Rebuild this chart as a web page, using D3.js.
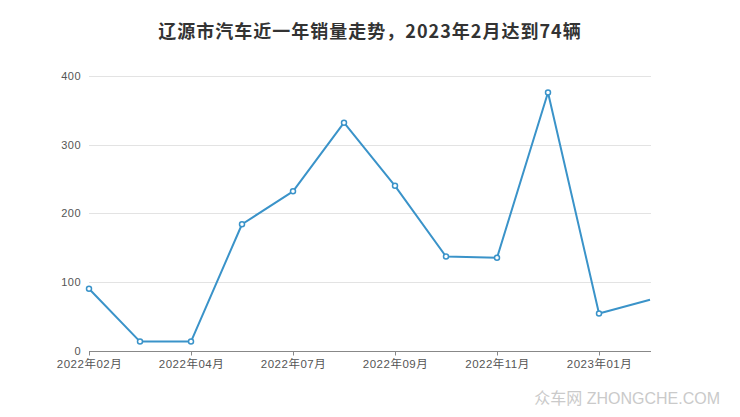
<!DOCTYPE html>
<html><head><meta charset="utf-8">
<script src="https://cdn.jsdelivr.net/npm/d3@7"></script>
<style>
html,body{margin:0;padding:0;background:#fff;}
svg{display:block;font-family:"Liberation Sans","Noto Sans CJK SC",sans-serif;}
</style></head>
<body>
<svg id="c" width="740" height="417"></svg>
<script>
const categories = ["2022年02月","2022年03月","2022年04月","2022年05月","2022年07月","2022年08月","2022年09月","2022年10月","2022年11月","2022年12月","2023年01月","2023年02月"];
const sales = [90, 13, 13, 184, 232, 332, 240, 137, 135, 376, 54, 74];
const yTicks = [0, 100, 200, 300, 400];
const xTickLabels = ["2022年02月","2022年04月","2022年07月","2022年09月","2022年11月","2023年01月"];
const titleText = "辽源市汽车近一年销量走势，2023年2月达到74辆";
const watermark = "众车网 ZHONGCHE.COM";

(function () {
const svg = d3.select("#c");
const pLeft = 89, pRight = 651, pTop = 76, pBottom = 350.5;
const x = d3.scalePoint().domain(categories).range([pLeft, 650]);
const y = d3.scaleLinear().domain([0, 400]).range([pBottom, pTop]);

svg.append("text").attr("x", 370).attr("y", 38).attr("text-anchor", "middle")
  .attr("font-size", 18).attr("font-weight", "bold").attr("fill", "#333")
  .attr("letter-spacing", 1)
  .attr("font-family", "'Noto Sans CJK SC','Liberation Sans',sans-serif")
  .text(titleText);

// grid
svg.append("g").selectAll("line").data(yTicks.filter(d => d > 0)).join("line")
  .attr("x1", pLeft).attr("x2", pRight)
  .attr("y1", d => Math.round(y(d)) + 0.5).attr("y2", d => Math.round(y(d)) + 0.5)
  .attr("stroke", "#e3e3e3").attr("stroke-width", 1);

// y labels
svg.append("g").selectAll("text").data(yTicks).join("text")
  .attr("x", 81).attr("y", d => y(d) + 4).attr("text-anchor", "end")
  .attr("font-size", 11).attr("fill", "#555").attr("letter-spacing", 0.5)
  .text(d => d);

// x axis
const xAxis = d3.axisBottom(x).tickValues(xTickLabels).tickSize(4).tickSizeOuter(0).tickPadding(4);
const gx = svg.append("g").attr("transform", `translate(0,${Math.round(pBottom)+0.5})`).call(xAxis);
gx.select(".domain").attr("stroke", "#888").attr("d", `M${pLeft},0H${pRight}`);
gx.selectAll(".tick line").attr("stroke", "#888");
gx.selectAll(".tick text").attr("fill", "#555").attr("font-size", 11.5).attr("letter-spacing", 0.5)
  .attr("font-family", "'Liberation Sans','Noto Sans CJK SC',sans-serif");

// clip
svg.append("clipPath").attr("id", "clip").append("rect")
  .attr("x", 80).attr("y", 60).attr("width", pRight - 80).attr("height", 300);

const g = svg.append("g").attr("clip-path", "url(#clip)");
const line = d3.line().x((d, i) => x(categories[i])).y(d => y(d));
g.append("path").datum(sales).attr("d", line).attr("fill", "none")
  .attr("stroke", "#3a93c9").attr("stroke-width", 2).attr("stroke-linejoin", "round");
g.selectAll("circle").data(sales.slice(0, sales.length - 1)).join("circle")
  .attr("cx", (d, i) => x(categories[i])).attr("cy", d => y(d)).attr("r", 2.5)
  .attr("fill", "#fff").attr("stroke", "#3a93c9").attr("stroke-width", 1.5);

svg.append("text").attr("x", 720).attr("y", 404).attr("text-anchor", "end")
  .attr("font-size", 16).attr("fill", "#cacaca")
  .attr("font-family", "'Liberation Sans','Noto Sans CJK SC',sans-serif")
  .text(watermark);
})();
</script>
</body></html>
